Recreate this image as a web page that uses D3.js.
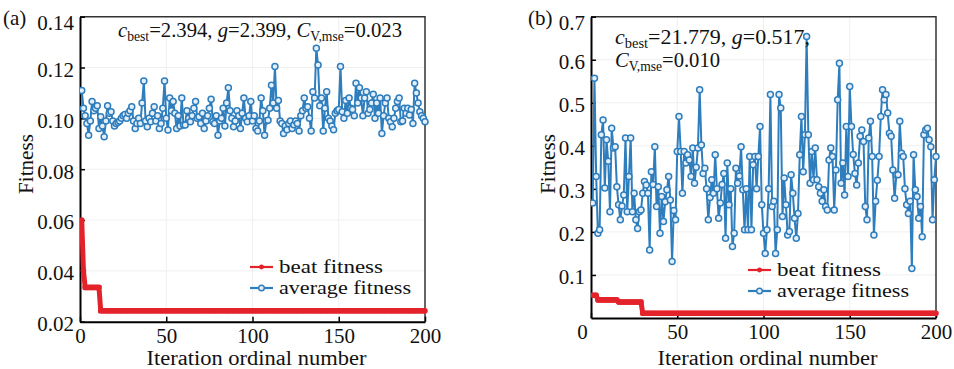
<!DOCTYPE html>
<html><head><meta charset="utf-8">
<script src="https://cdn.jsdelivr.net/npm/d3@7"></script>
<style>
body{margin:0;background:#fff}
svg{display:block}
svg text{font-family:"Liberation Serif","Times New Roman",serif;fill:#111}
</style>
</head><body><svg id="c" width="954" height="369"></svg>
<script>
// ---------------- data ----------------
const xTicks = [0, 50, 100, 150, 200];
const yTicksA = [0.02, 0.04, 0.06, 0.08, 0.10, 0.12, 0.14];
const yTicksB = [0.1, 0.2, 0.3, 0.4, 0.5, 0.6, 0.7];
const seriesNames = ["beat fitness", "average fitness"];

const bestA = [
0.06,0.04,0.0335,0.0335,0.0335,0.0335,0.0335,0.0335,0.0335,0.0335,0.0335,0.0243,0.0243,0.0243,0.0243,0.0243,0.0243,0.0243,0.0243,0.0243,
0.0243,0.0243,0.0243,0.0243,0.0243,0.0243,0.0243,0.0243,0.0243,0.0243,0.0243,0.0243,0.0243,0.0243,0.0243,0.0243,0.0243,0.0243,0.0243,0.0243,
0.0243,0.0243,0.0243,0.0243,0.0243,0.0243,0.0243,0.0243,0.0243,0.0243,0.0243,0.0243,0.0243,0.0243,0.0243,0.0243,0.0243,0.0243,0.0243,0.0243,
0.0243,0.0243,0.0243,0.0243,0.0243,0.0243,0.0243,0.0243,0.0243,0.0243,0.0243,0.0243,0.0243,0.0243,0.0243,0.0243,0.0243,0.0243,0.0243,0.0243,
0.0243,0.0243,0.0243,0.0243,0.0243,0.0243,0.0243,0.0243,0.0243,0.0243,0.0243,0.0243,0.0243,0.0243,0.0243,0.0243,0.0243,0.0243,0.0243,0.0243,
0.0243,0.0243,0.0243,0.0243,0.0243,0.0243,0.0243,0.0243,0.0243,0.0243,0.0243,0.0243,0.0243,0.0243,0.0243,0.0243,0.0243,0.0243,0.0243,0.0243,
0.0243,0.0243,0.0243,0.0243,0.0243,0.0243,0.0243,0.0243,0.0243,0.0243,0.0243,0.0243,0.0243,0.0243,0.0243,0.0243,0.0243,0.0243,0.0243,0.0243,
0.0243,0.0243,0.0243,0.0243,0.0243,0.0243,0.0243,0.0243,0.0243,0.0243,0.0243,0.0243,0.0243,0.0243,0.0243,0.0243,0.0243,0.0243,0.0243,0.0243,
0.0243,0.0243,0.0243,0.0243,0.0243,0.0243,0.0243,0.0243,0.0243,0.0243,0.0243,0.0243,0.0243,0.0243,0.0243,0.0243,0.0243,0.0243,0.0243,0.0243,
0.0243,0.0243,0.0243,0.0243,0.0243,0.0243,0.0243,0.0243,0.0243,0.0243,0.0243,0.0243,0.0243,0.0243,0.0243,0.0243,0.0243,0.0243,0.0243,0.0243];

const avgA = [
0.111,0.104,0.101,0.098,0.0934,0.099,0.1066,0.103,0.104,0.105,
0.096,0.1006,0.097,0.0928,0.099,0.105,0.102,0.1026,0.099,0.097,
0.098,0.0985,0.099,0.100,0.101,0.1015,0.100,0.102,0.103,0.1046,
0.099,0.096,0.098,0.100,0.098,0.106,0.1147,0.099,0.0967,0.100,
0.0987,0.102,0.1046,0.099,0.101,0.096,0.098,0.104,0.1147,0.100,
0.0954,0.108,0.103,0.1066,0.102,0.096,0.101,0.097,0.108,0.0974,
0.0974,0.103,0.100,0.0987,0.101,0.104,0.1066,0.100,0.1006,0.098,
0.102,0.096,0.099,0.101,0.104,0.1075,0.0987,0.098,0.101,0.0934,
0.099,0.100,0.104,0.097,0.106,0.112,0.103,0.100,0.0967,0.099,
0.103,0.101,0.096,0.102,0.108,0.100,0.0987,0.101,0.1066,0.099,
0.101,0.096,0.095,0.099,0.108,0.103,0.0934,0.099,0.0993,0.104,
0.113,0.106,0.1204,0.104,0.107,0.099,0.098,0.094,0.097,0.0955,
0.098,0.099,0.096,0.0975,0.099,0.098,0.095,0.101,0.103,0.108,
0.104,0.1046,0.100,0.095,0.1105,0.108,0.1276,0.121,0.105,0.108,
0.095,0.104,0.1105,0.100,0.099,0.097,0.0955,0.102,0.103,0.1035,
0.1204,0.1026,0.100,0.107,0.102,0.108,0.104,0.1035,0.101,0.1138,
0.106,0.112,0.108,0.101,0.108,0.1105,0.102,0.1035,0.106,0.1095,
0.100,0.106,0.102,0.108,0.094,0.101,0.106,0.108,0.100,0.0987,
0.0967,0.100,0.104,0.1066,0.108,0.0987,0.099,0.104,0.102,0.104,
0.1013,0.1035,0.098,0.1138,0.110,0.106,0.1026,0.101,0.100,0.0987];

const bestB = [
0.053,0.053,0.053,0.042,0.042,0.042,0.042,0.042,0.042,0.042,0.042,0.042,0.042,0.042,0.042,0.037,0.037,0.037,0.037,0.037,
0.037,0.037,0.037,0.037,0.037,0.037,0.037,0.037,0.037,0.011,0.011,0.011,0.011,0.011,0.011,0.011,0.011,0.011,0.011,0.011,
0.011,0.011,0.011,0.011,0.011,0.011,0.011,0.011,0.011,0.011,0.011,0.011,0.011,0.011,0.011,0.011,0.011,0.011,0.011,0.011,
0.011,0.011,0.011,0.011,0.011,0.011,0.011,0.011,0.011,0.011,0.011,0.011,0.011,0.011,0.011,0.011,0.011,0.011,0.011,0.011,
0.011,0.011,0.011,0.011,0.011,0.011,0.011,0.011,0.011,0.011,0.011,0.011,0.011,0.011,0.011,0.011,0.011,0.011,0.011,0.011,
0.011,0.011,0.011,0.011,0.011,0.011,0.011,0.011,0.011,0.011,0.011,0.011,0.011,0.011,0.011,0.011,0.011,0.011,0.011,0.011,
0.011,0.011,0.011,0.011,0.011,0.011,0.011,0.011,0.011,0.011,0.011,0.011,0.011,0.011,0.011,0.011,0.011,0.011,0.011,0.011,
0.011,0.011,0.011,0.011,0.011,0.011,0.011,0.011,0.011,0.011,0.011,0.011,0.011,0.011,0.011,0.011,0.011,0.011,0.011,0.011,
0.011,0.011,0.011,0.011,0.011,0.011,0.011,0.011,0.011,0.011,0.011,0.011,0.011,0.011,0.011,0.011,0.011,0.011,0.011,0.011,
0.011,0.011,0.011,0.011,0.011,0.011,0.011,0.011,0.011,0.011,0.011,0.011,0.011,0.011,0.011,0.011,0.011,0.011,0.011,0.011];

const avgB = [
0.267,0.557,0.329,0.197,0.205,0.426,0.460,0.302,0.414,0.364,
0.247,0.441,0.395,0.398,0.305,0.263,0.228,0.260,0.286,0.418,
0.247,0.329,0.418,0.247,0.290,0.228,0.208,0.247,0.251,0.290,
0.317,0.309,0.290,0.158,0.340,0.310,0.398,0.259,0.305,0.197,
0.282,0.224,0.270,0.298,0.329,0.274,0.131,0.250,0.228,0.387,
0.468,0.387,0.290,0.387,0.360,0.379,0.367,0.329,0.395,0.313,
0.350,0.395,0.530,0.402,0.336,0.348,0.300,0.228,0.280,0.321,
0.290,0.379,0.300,0.232,0.267,0.310,0.336,0.185,0.360,0.263,
0.300,0.166,0.197,0.348,0.313,0.330,0.398,0.298,0.205,0.300,
0.205,0.375,0.205,0.356,0.375,0.300,0.375,0.445,0.263,0.197,
0.150,0.205,0.300,0.519,0.259,0.271,0.150,0.205,0.519,0.488,
0.236,0.325,0.263,0.193,0.201,0.333,0.290,0.232,0.185,0.243,
0.379,0.468,0.340,0.426,0.654,0.426,0.313,0.387,0.321,0.395,
0.321,0.305,0.290,0.271,0.298,0.259,0.251,0.367,0.395,0.375,
0.251,0.344,0.507,0.592,0.313,0.360,0.286,0.445,0.329,0.538,
0.445,0.380,0.336,0.309,0.360,0.422,0.437,0.410,0.259,0.228,
0.418,0.457,0.375,0.193,0.271,0.320,0.375,0.468,0.530,0.507,
0.519,0.476,0.429,0.422,0.344,0.278,0.333,0.333,0.457,0.383,
0.375,0.300,0.263,0.243,0.271,0.115,0.379,0.298,0.282,0.232,
0.259,0.189,0.426,0.437,0.441,0.414,0.398,0.228,0.321,0.375];

const iterations = d3.range(1, 201);

// ---------------- drawing ----------------
const RED = "#e3232b", BLUE = "#2e7dbd", MFILL = "#e4eef8";
const FONT = "'Liberation Serif','Times New Roman',serif";
const svg = d3.select("#c");

function richText(g, x, y, parts, size) {
  const t = g.append("text").attr("x", x).attr("y", y).style("font-size", size + "px").style("font-family", FONT);
  parts.forEach(p => {
    const s = t.append("tspan").text(p.t);
    if (p.i) s.style("font-style", "italic");
    if (p.sub) s.style("font-size", (size * 0.66) + "px").attr("dy", 4);
    if (p.back) s.attr("dy", -4);
  });
  return t;
}

function panel(cfg) {
  const g = svg.append("g").attr("font-family", FONT);
  const x = d3.scaleLinear().domain([0, 200]).range([cfg.left, cfg.right]);
  const y = d3.scaleLinear().domain(cfg.yDomain).range([cfg.bottom, cfg.top]);

  // faint grid
  g.append("g").selectAll("line").data(xTicks.slice(1, -1)).join("line")
    .attr("x1", d => x(d)).attr("x2", d => x(d)).attr("y1", cfg.top).attr("y2", cfg.bottom)
    .attr("stroke", "#efefef").attr("stroke-width", 1);
  g.append("g").selectAll("line").data(cfg.yTicks.filter(v => y(v) > cfg.top + 2 && y(v) < cfg.bottom - 2)).join("line")
    .attr("x1", cfg.left).attr("x2", cfg.right).attr("y1", d => y(d)).attr("y2", d => y(d))
    .attr("stroke", "#efefef").attr("stroke-width", 1);

  // box top/right
  g.append("path").attr("d", `M${cfg.left},${cfg.top}H${cfg.right}V${cfg.bottom}`)
    .attr("fill", "none").attr("stroke", "#333").attr("stroke-width", 1.5);

  // axes
  const xAxis = d3.axisBottom(x).tickValues(xTicks).tickSizeInner(-5).tickSizeOuter(0).tickPadding(6);
  const gx = g.append("g").attr("transform", `translate(0,${cfg.bottom})`).call(xAxis).attr("font-family", FONT);
  gx.select(".domain").attr("stroke", "#000").attr("stroke-width", 2);
  gx.selectAll(".tick line").attr("stroke", "#000").attr("stroke-width", 1.5);
  gx.selectAll(".tick text").style("font-size", "21px").style("font-family", FONT).attr("fill", "#111")
    .attr("dx", d => (d === 0 ? cfg.zeroDx : 0));

  const yAxis = d3.axisLeft(y).tickValues(cfg.yTicks).tickFormat(d3.format(cfg.fmt)).tickSizeInner(-5).tickSizeOuter(0).tickPadding(6);
  const gy = g.append("g").attr("transform", `translate(${cfg.left},0)`).call(yAxis).attr("font-family", FONT);
  gy.select(".domain").attr("stroke", "#000").attr("stroke-width", 2);
  gy.selectAll(".tick line").attr("stroke", "#000").attr("stroke-width", 1.5);
  gy.selectAll(".tick text").style("font-size", "21px").style("font-family", FONT).attr("fill", "#111")
    .attr("dy", d => (Math.abs(y(d) - cfg.top) < 1 ? "0.6em" : "0.42em"));

  // panel letter
  g.append("text").attr("x", cfg.labelX).attr("y", cfg.labelY).style("font-size", "21px").style("font-family", FONT).text(cfg.label);

  // axis titles
  g.append("text").attr("x", (cfg.left + cfg.right) / 2 + 4).attr("y", 365).attr("text-anchor", "middle")
    .style("font-size", "20px").style("font-family", FONT).attr("textLength", 220).attr("lengthAdjust", "spacingAndGlyphs")
    .text("Iteration ordinal number");
  g.append("text").attr("transform", `translate(${cfg.yTitleX},164) rotate(-90)`).attr("text-anchor", "middle")
    .style("font-size", "21px").style("font-family", FONT).attr("textLength", 60).attr("lengthAdjust", "spacingAndGlyphs").text("Fitness");

  // series
  const line = d3.line().x((d, i) => x(iterations[i])).y(d => y(d));
  const clip = "clip" + cfg.label.replace(/\W/g, "");
  svg.append("clipPath").attr("id", clip).append("rect")
    .attr("x", cfg.left).attr("y", cfg.top - 4).attr("width", cfg.right - cfg.left + 4).attr("height", cfg.bottom - cfg.top + 4);
  const s = g.append("g").attr("clip-path", `url(#${clip})`);

  s.append("path").datum(cfg.avg).attr("d", line).attr("fill", "none").attr("stroke", BLUE).attr("stroke-width", 2);
  s.selectAll("circle.avg").data(cfg.avg).join("circle").attr("class", "avg")
    .attr("cx", (d, i) => x(iterations[i])).attr("cy", d => y(d)).attr("r", 3)
    .attr("fill", MFILL).attr("stroke", BLUE).attr("stroke-width", 1.5);

  s.append("path").datum(cfg.best).attr("d", line).attr("fill", "none").attr("stroke", RED).attr("stroke-width", 5);
  s.selectAll("circle.best").data(cfg.best).join("circle").attr("class", "best")
    .attr("cx", (d, i) => x(iterations[i])).attr("cy", d => y(d)).attr("r", 2.8).attr("fill", RED);

  // annotation
  cfg.annot(g);

  // legend
  const lg = g.append("g");
  [[RED, seriesNames[0], 0], [BLUE, seriesNames[1], 1]].forEach(([c, name, k]) => {
    const ly = cfg.legY + k * 21;
    lg.append("line").attr("x1", cfg.legX).attr("x2", cfg.legX + 23).attr("y1", ly).attr("y2", ly)
      .attr("stroke", c).attr("stroke-width", 2.2);
    if (k === 0) lg.append("circle").attr("cx", cfg.legX + 11.5).attr("cy", ly).attr("r", 2.4).attr("fill", c);
    else lg.append("circle").attr("cx", cfg.legX + 11.5).attr("cy", ly).attr("r", 2.8).attr("fill", MFILL).attr("stroke", c).attr("stroke-width", 1.4);
    lg.append("text").attr("x", cfg.legX + 29).attr("y", ly + 6).style("font-size", "19px").style("font-family", FONT)
      .attr("textLength", cfg.legLen[k]).attr("lengthAdjust", "spacingAndGlyphs").text(name);
  });
}

panel({
  left: 80, right: 425, top: 16.7, bottom: 321.7,
  yDomain: [0.02, 0.14], yTicks: yTicksA, fmt: ".2f",
  best: bestA, avg: avgA, label: "(a)", labelX: 3, labelY: 25, zeroDx: 0,
  yTitleX: 33, legX: 250, legY: 267, legLen: [104, 132],
  annot: g => {
    const t = richText(g, 118, 37, [
      {t: "c", i: true}, {t: "best", sub: true}, {t: "=2.394, ", back: true},
      {t: "g", i: true}, {t: "=2.399, "}, {t: "C", i: true}, {t: "V,mse", sub: true}, {t: "=0.023", back: true}
    ], 21);
    t.attr("textLength", 284).attr("lengthAdjust", "spacingAndGlyphs");
  }
});

panel({
  left: 591, right: 936, top: 16.7, bottom: 318,
  yDomain: [0, 0.7], yTicks: yTicksB, fmt: ".1f",
  best: bestB, avg: avgB, label: "(b)", labelX: 528, labelY: 25, zeroDx: -9,
  yTitleX: 555, legX: 748, legY: 270, legLen: [104, 132],
  annot: g => {
    const t1 = richText(g, 615, 44, [
      {t: "c", i: true}, {t: "best", sub: true}, {t: "=21.779, ", back: true},
      {t: "g", i: true}, {t: "=0.517,"}
    ], 21);
    t1.attr("textLength", 195).attr("lengthAdjust", "spacingAndGlyphs");
    const t2 = richText(g, 615, 67, [
      {t: "C", i: true}, {t: "V,mse", sub: true}, {t: "=0.010", back: true}
    ], 21);
    t2.attr("textLength", 105).attr("lengthAdjust", "spacingAndGlyphs");
  }
});
</script>
</body></html>
